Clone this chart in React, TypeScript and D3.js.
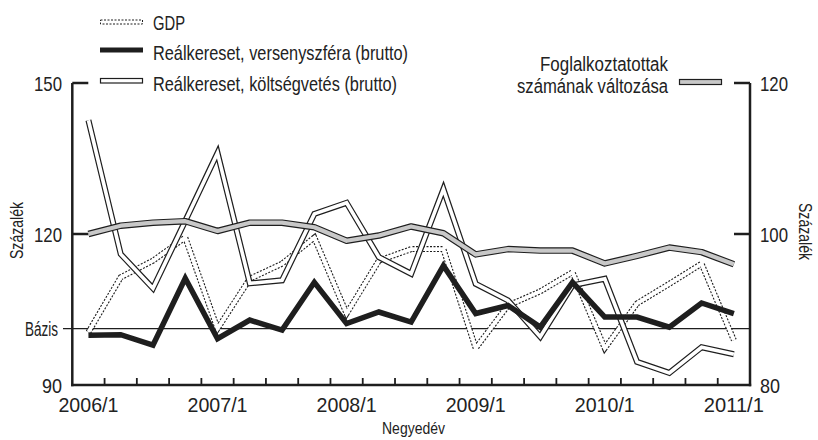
import React from "react";
import * as d3 from "d3";

const quarters: string[] = [
  "2006/1","2006/2","2006/3","2006/4",
  "2007/1","2007/2","2007/3","2007/4",
  "2008/1","2008/2","2008/3","2008/4",
  "2009/1","2009/2","2009/3","2009/4",
  "2010/1","2010/2","2010/3","2010/4",
  "2011/1",
];
const xTickLabels: string[] = ["2006/1","2007/1","2008/1","2009/1","2010/1","2011/1"];

const gdp: number[] = [100.5,111.4,114.7,119.3,101.2,111.1,114.1,119.3,104.2,114.7,117.0,117.0,97.3,105.8,108.6,112.4,97.3,106.2,110.1,114.1,98.9];
const versenyszfera: number[] = [99.9,100.0,97.9,111.2,99.2,102.9,100.9,110.4,102.2,104.5,102.5,113.7,104.2,105.8,101.5,110.4,103.5,103.5,101.5,106.3,104.2];
const koltsegvetes: number[] = [142.6,116.0,109.2,122.6,136.1,110.2,110.8,124.0,126.2,115.4,112.1,128.9,110.1,106.8,99.6,109.8,111.1,94.6,92.4,97.5,96.1];
const foglalkoztatottak: number[] = [100.0,101.1,101.5,101.7,100.4,101.5,101.5,100.9,99.1,99.8,101.0,100.1,97.3,98.0,97.8,97.8,96.1,97.1,98.2,97.6,96.0];

const leftTicks: number[] = [90, 120, 150];
const rightTicks: number[] = [80, 100, 120];
const bazisValue = 101.2;

const FONT = "'Liberation Sans', Arial, sans-serif";

export default function App() {
  const W = 818, H = 440;
  const left = 72.3, right = 750, top = 83, bottom = 385;
  const x = d3.scaleBand<string>().domain(quarters).range([left, right]).padding(0);
  const yL = d3.scaleLinear().domain([90, 150]).range([bottom, top]);
  const yR = d3.scaleLinear().domain([80, 120]).range([bottom, top]);
  const cx = (i: number) => (x(quarters[i]) as number) + x.bandwidth() / 2;

  const lineL = d3.line<number>().x((_, i) => cx(i)).y((d) => yL(d));
  const lineR = d3.line<number>().x((_, i) => cx(i)).y((d) => yR(d));

  const dark = "#1e1e1e";
  const txt = "#222";
  const numW = (s: string) => (s.length === 2 ? 20 : 28);

  return (
    <svg width={W} height={H} style={{ position: "absolute", left: 0, top: 0, background: "#fff" }} fontFamily={FONT}>
      <rect x={0} y={0} width={W} height={H} fill="#fff" />
      {/* Legend */}
      <g>
        <rect x={100.5} y={20} width={42} height={4} fill="#fff" stroke={dark} strokeWidth={1} strokeDasharray="2 1.5" />
        <text x={153} y={30} fontSize={21} fill={txt} textLength={32} lengthAdjust="spacingAndGlyphs">GDP</text>
        <rect x={100} y={47.5} width={43} height={5} fill={dark} />
        <text x={153} y={60} fontSize={21} fill={txt} textLength={255} lengthAdjust="spacingAndGlyphs">Reálkereset, versenyszféra (brutto)</text>
        <rect x={100.5} y={78.5} width={42} height={4.5} fill="#fff" stroke={dark} strokeWidth={1.2} />
        <text x={153} y={90.5} fontSize={21} fill={txt} textLength={244} lengthAdjust="spacingAndGlyphs">Reálkereset, költségvetés (brutto)</text>
        <text x={540} y={71} fontSize={20} fill={txt} textLength={128} lengthAdjust="spacingAndGlyphs">Foglalkoztatottak</text>
        <text x={517} y={93} fontSize={20} fill={txt} textLength={151} lengthAdjust="spacingAndGlyphs">számának változása</text>
        <rect x={679.5} y={79.5} width={42} height={5} fill="#c8c8c8" stroke={dark} strokeWidth={1.2} />
      </g>

      {/* Axes */}
      <line x1={left} x2={left} y1={top} y2={bottom + 1.2} stroke={dark} strokeWidth={2.5} />
      <line x1={right} x2={right} y1={top} y2={bottom + 1.2} stroke={dark} strokeWidth={2.5} />
      <line x1={left - 1.2} x2={right + 1.2} y1={bottom} y2={bottom} stroke={dark} strokeWidth={2.5} />
      {leftTicks.map((t) => (
        <g key={"l" + t}>
          {t !== 90 && <line x1={left} x2={left + 16} y1={yL(t)} y2={yL(t)} stroke={dark} strokeWidth={2.5} />}
          <text x={62 - numW(String(t))} y={yL(t)} dy="0.36em" fontSize={21} fill={txt} textLength={numW(String(t))} lengthAdjust="spacingAndGlyphs">{t}</text>
        </g>
      ))}
      {rightTicks.map((t) => (
        <g key={"r" + t}>
          {t !== 80 && <line x1={right - 16} x2={right} y1={yR(t)} y2={yR(t)} stroke={dark} strokeWidth={2.5} />}
          <text x={760} y={yR(t)} dy="0.36em" fontSize={21} fill={txt} textLength={numW(String(t))} lengthAdjust="spacingAndGlyphs">{t}</text>
        </g>
      ))}
      {quarters.slice(1).map((q) => (
        <line key={"t" + q} x1={x(q) as number} x2={x(q) as number} y1={bottom} y2={bottom - 7} stroke={dark} strokeWidth={1.8} />
      ))}
      {xTickLabels.map((q) => (
        <text key={"xl" + q} x={(x(q) as number) + x.bandwidth() / 2 - 30} y={bottom + 27} fontSize={21} fill={txt} textLength={60} lengthAdjust="spacingAndGlyphs">{q}</text>
      ))}
      <text x={382} y={434} fontSize={17} fill={txt} textLength={63} lengthAdjust="spacingAndGlyphs">Negyedév</text>
      <text transform={`translate(23,259) rotate(-90)`} fontSize={18} fill={txt} textLength={57} lengthAdjust="spacingAndGlyphs">Százalék</text>
      <text transform={`translate(799,203) rotate(90)`} fontSize={18} fill={txt} textLength={57} lengthAdjust="spacingAndGlyphs">Százalék</text>

      {/* Bázis line */}
      <line x1={63} x2={right} y1={yL(bazisValue)} y2={yL(bazisValue)} stroke={dark} strokeWidth={1.3} />
      <text x={25} y={yL(bazisValue)} dy="0.36em" fontSize={20} fill={txt} textLength={33} lengthAdjust="spacingAndGlyphs">Bázis</text>

      {/* GDP: dotted double line */}
      <path d={lineL(gdp) || ""} fill="none" stroke={dark} strokeWidth={6} strokeDasharray="2 1.5" strokeLinejoin="miter" />
      <path d={lineL(gdp) || ""} fill="none" stroke="#fff" strokeWidth={3.8} strokeLinejoin="miter" />

      {/* Költségvetés: double line */}
      <path d={lineL(koltsegvetes) || ""} fill="none" stroke={dark} strokeWidth={6} strokeLinejoin="miter" />
      <path d={lineL(koltsegvetes) || ""} fill="none" stroke="#fff" strokeWidth={3.6} strokeLinejoin="miter" />

      {/* Versenyszféra: thick black */}
      <path d={lineL(versenyszfera) || ""} fill="none" stroke={dark} strokeWidth={5.5} strokeLinejoin="miter" />

      {/* Foglalkoztatottak: grey with border */}
      <path d={lineR(foglalkoztatottak) || ""} fill="none" stroke={dark} strokeWidth={6.5} strokeLinejoin="round" />
      <path d={lineR(foglalkoztatottak) || ""} fill="none" stroke="#c8c8c8" strokeWidth={4.2} strokeLinejoin="round" />
    </svg>
  );
}
